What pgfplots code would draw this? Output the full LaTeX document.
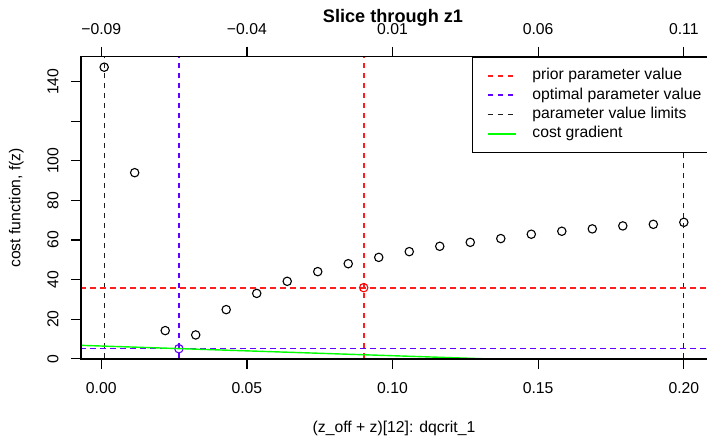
\documentclass[border=0pt]{standalone}
\usepackage{pgfplots}
\pgfplotsset{compat=1.18}
\usepackage{fontspec}
\setmainfont{Liberation Sans}
\definecolor{optblue}{RGB}{96,0,255}
\definecolor{rred}{RGB}{255,30,30}
\definecolor{rblack}{RGB}{30,30,30}
\begin{document}
\begin{tikzpicture}
\pgfplotsset{every axis/.append style={font=\fontsize{15.8}{19}\selectfont}}
\begin{axis}[
  at={(0bp,0bp)}, anchor=south west,
  width=626bp, height=302.3bp, scale only axis,
  xmin=-0.00696, xmax=0.20796, ymin=-0.15, ymax=152.6,
  axis line style={draw=none},
  clip mode=individual,
  scaled ticks=false,
  tick align=outside, major tick length=10bp,
  every tick/.style={black, line width=1.2bp},
  xtick={0,0.05,0.1,0.15,0.2}, xticklabels={0.00,0.05,0.10,0.15,0.20},
  xtick pos=left, ytick pos=left,
  ytick={0,20,40,60,80,100,120,140}, yticklabels={0,20,40,60,80,100,{},140},
  xticklabel style={anchor=center, yshift=-18.6bp},
  yticklabel style={xshift=-18bp, rotate=90, anchor=center},
  title={Slice through z1},
  title style={at={(axis description cs:0.4984,1.1082)}, anchor=center, font=\bfseries\fontsize{18.2}{21}\selectfont},
  xlabel={(z\_off + z)[12]: dqcrit\_1},
  ylabel={cost function, f(z)},
  x label style={at={(axis description cs:0.5,-0.2295)}, anchor=center},
  y label style={at={(axis description cs:-0.1035,0.5)}, anchor=center, rotate=0},
  legend style={at={(axis description cs:0.6241,1)}, anchor=north west, draw=black, line width=1.2bp, fill=white,
    inner xsep=14.3bp, inner ysep=10.6bp, row sep=3.5bp, column sep=15.7bp,
    font=\fontsize{15.8}{19}\selectfont,
    nodes={inner sep=0pt, text height=11.85bp, text depth=3.95bp}},
  legend cell align=left,
]
\addlegendimage{legend image code/.code={\draw[draw=rred, line width=2.2bp, dash pattern=on 5.5bp off 4.5bp] (0bp,0bp) -- (28bp,0bp);}}
\addlegendentry{prior parameter value}
\addlegendimage{legend image code/.code={\draw[draw=optblue, line width=1.5bp, dash pattern=on 5.5bp off 4.5bp] (0bp,0bp) -- (28bp,0bp);}}
\addlegendentry{optimal parameter value}
\addlegendimage{legend image code/.code={\draw[draw=rblack, line width=1.3bp, dash pattern=on 5.5bp off 4.5bp] (0bp,0bp) -- (28bp,0bp);}}
\addlegendentry{parameter value limits}
\addlegendimage{legend image code/.code={\draw[draw=green, line width=2.2bp] (0bp,0bp) -- (28bp,0bp);}}
\addlegendentry{cost gradient}

\addplot[only marks, mark=o, mark size=4.2bp, mark options={line width=1.1bp}, color=black, forget plot] coordinates {
(0.00100,147.3) (0.01147,94.0) (0.02195,14.2) (0.03242,12.0) (0.04289,24.8)
(0.05337,33.0) (0.06384,39.1) (0.07432,44.0) (0.08479,48.0) (0.09526,51.2)
(0.10574,54.1) (0.11621,56.8) (0.12668,58.8) (0.13716,60.7) (0.14763,62.9)
(0.15811,64.4) (0.16858,65.6) (0.17905,67.1) (0.18953,67.9) (0.20000,68.9)
};

\addplot[rblack, line width=1.2bp, dash pattern=on 5.5bp off 4.5bp, forget plot] coordinates {(0.001,-10) (0.001,200)};
\addplot[rblack, line width=1.2bp, dash pattern=on 5.5bp off 4.5bp, forget plot] coordinates {(0.2,-10) (0.2,200)};
\addplot[rred, line width=1.8bp, dash pattern=on 5.5bp off 4.5bp, forget plot] coordinates {(0.0901,-10) (0.0901,200)};
\addplot[rred, line width=1.8bp, dash pattern=on 5.5bp off 4.5bp, forget plot] coordinates {(-0.1,35.9) (0.3,35.9)};
\addplot[optblue, line width=1.2bp, dash pattern=on 5.5bp off 4.5bp, forget plot] coordinates {(0.02665,-10) (0.02665,200)};
\addplot[optblue, line width=1.3bp, dash pattern=on 5.5bp off 4.5bp, forget plot] coordinates {(-0.1,5.2) (0.3,5.2)};
\addplot[only marks, mark=o, mark size=4.2bp, mark options={line width=1.1bp}, color=red, forget plot] coordinates {(0.0901,35.9)};
\addplot[only marks, mark=o, mark size=4.2bp, mark options={line width=1.1bp}, color=optblue, forget plot] coordinates {(0.02665,5.05)};
\addplot[green, line width=1.4bp, forget plot] coordinates {(-0.00696,6.75) (0.20796,-3.78)};

\draw[line width=1.2bp] (rel axis cs:1.05,1) -- (rel axis cs:0,1) -- (rel axis cs:0,0) -- (rel axis cs:1.05,0);
\end{axis}
\begin{axis}[
  at={(0bp,0bp)}, anchor=south west,
  width=626bp, height=302.3bp, scale only axis,
  xmin=-0.00696, xmax=0.20796, ymin=-0.15, ymax=152.6,
  axis line style={draw=none},
  scaled ticks=false,
  tick align=outside, major tick length=10bp,
  every tick/.style={black, line width=1.2bp},
  ytick=\empty,
  xtick={0,0.05,0.1,0.15,0.2}, xticklabels={−0.09,−0.04,0.01,0.06,0.11},
  xtick pos=right, xticklabel pos=right,
  xticklabel style={anchor=center, yshift=18.0bp},
]
\end{axis}
\pgfresetboundingbox
\path[use as bounding box] (-81bp,-77bp) rectangle (626bp,359bp);
\end{tikzpicture}
\end{document}
